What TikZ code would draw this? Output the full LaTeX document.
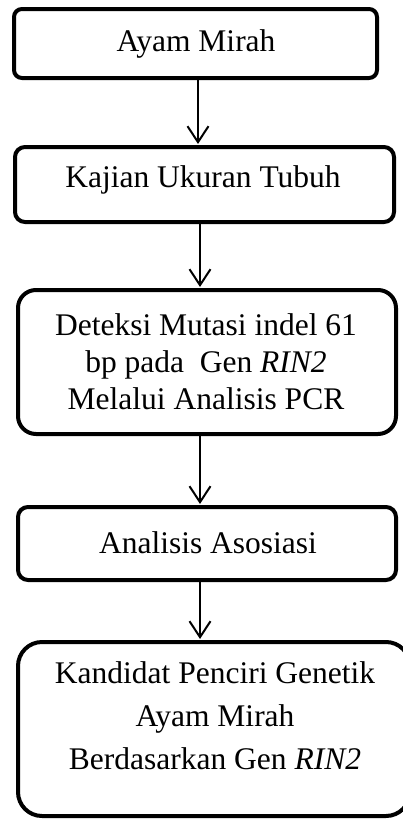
\documentclass[tikz,border=0pt]{standalone}
\usepackage{fontspec}
\setmainfont{Liberation Serif}
\usetikzlibrary{arrows.meta}
\begin{document}
\begin{tikzpicture}[x=1pt,y=-1pt,
  box/.style={draw, line width=4pt, inner sep=0pt},
  lbl/.style={font=\fontsize{31.5}{37}\selectfont, align=center, inner sep=0pt},
  arr/.style={line width=2pt, -{Straight Barb[length=16pt,width=21pt,line width=2pt]}, shorten >=1pt}]
\useasboundingbox (0,0) rectangle (403,819);
% boxes
\node[box, rounded corners=8pt,  minimum width=363pt, minimum height=69pt]  (b1) at (195.5,43.5) {};
\node[box, rounded corners=10pt, minimum width=379pt, minimum height=75pt]  (b2) at (204.5,184.5) {};
\node[box, rounded corners=18pt, minimum width=378pt, minimum height=144pt] (b3) at (207,362) {};
\node[box, rounded corners=10pt, minimum width=378pt, minimum height=73pt]  (b4) at (207,543.5) {};
\node[box, rounded corners=24pt, minimum width=392pt, minimum height=174pt] (b5) at (214,729) {};
% texts
\node[lbl, anchor=base] (t1) at (196,51) {Ayam Mirah};
\node[lbl, anchor=base] (t2) at (203,187) {Kajian Ukuran Tubuh};
\node[lbl] (t3) at (206,362) {Deteksi Mutasi indel 61\\bp pada\ \ Gen \textit{RIN2}\\Melalui Analisis PCR};
\node[lbl, anchor=base] (t4) at (208,553) {Analisis Asosiasi};
\node[lbl, font=\fontsize{31.5}{43}\selectfont] (t5) at (215,716) {Kandidat Penciri Genetik\\Ayam Mirah\\Berdasarkan Gen \textit{RIN2}};
% connectors
\coordinate (c1) at (198,0);
\coordinate (c2) at (200,0);
\draw[arr] (b1.south -| c1) -- (b2.north -| c1);
\draw[arr] (b2.south -| c2) -- (b3.north -| c2);
\draw[arr] (b3.south -| c2) -- (b4.north -| c2);
\draw[arr] (b4.south -| c2) -- (b5.north -| c2);
\end{tikzpicture}
\end{document}
